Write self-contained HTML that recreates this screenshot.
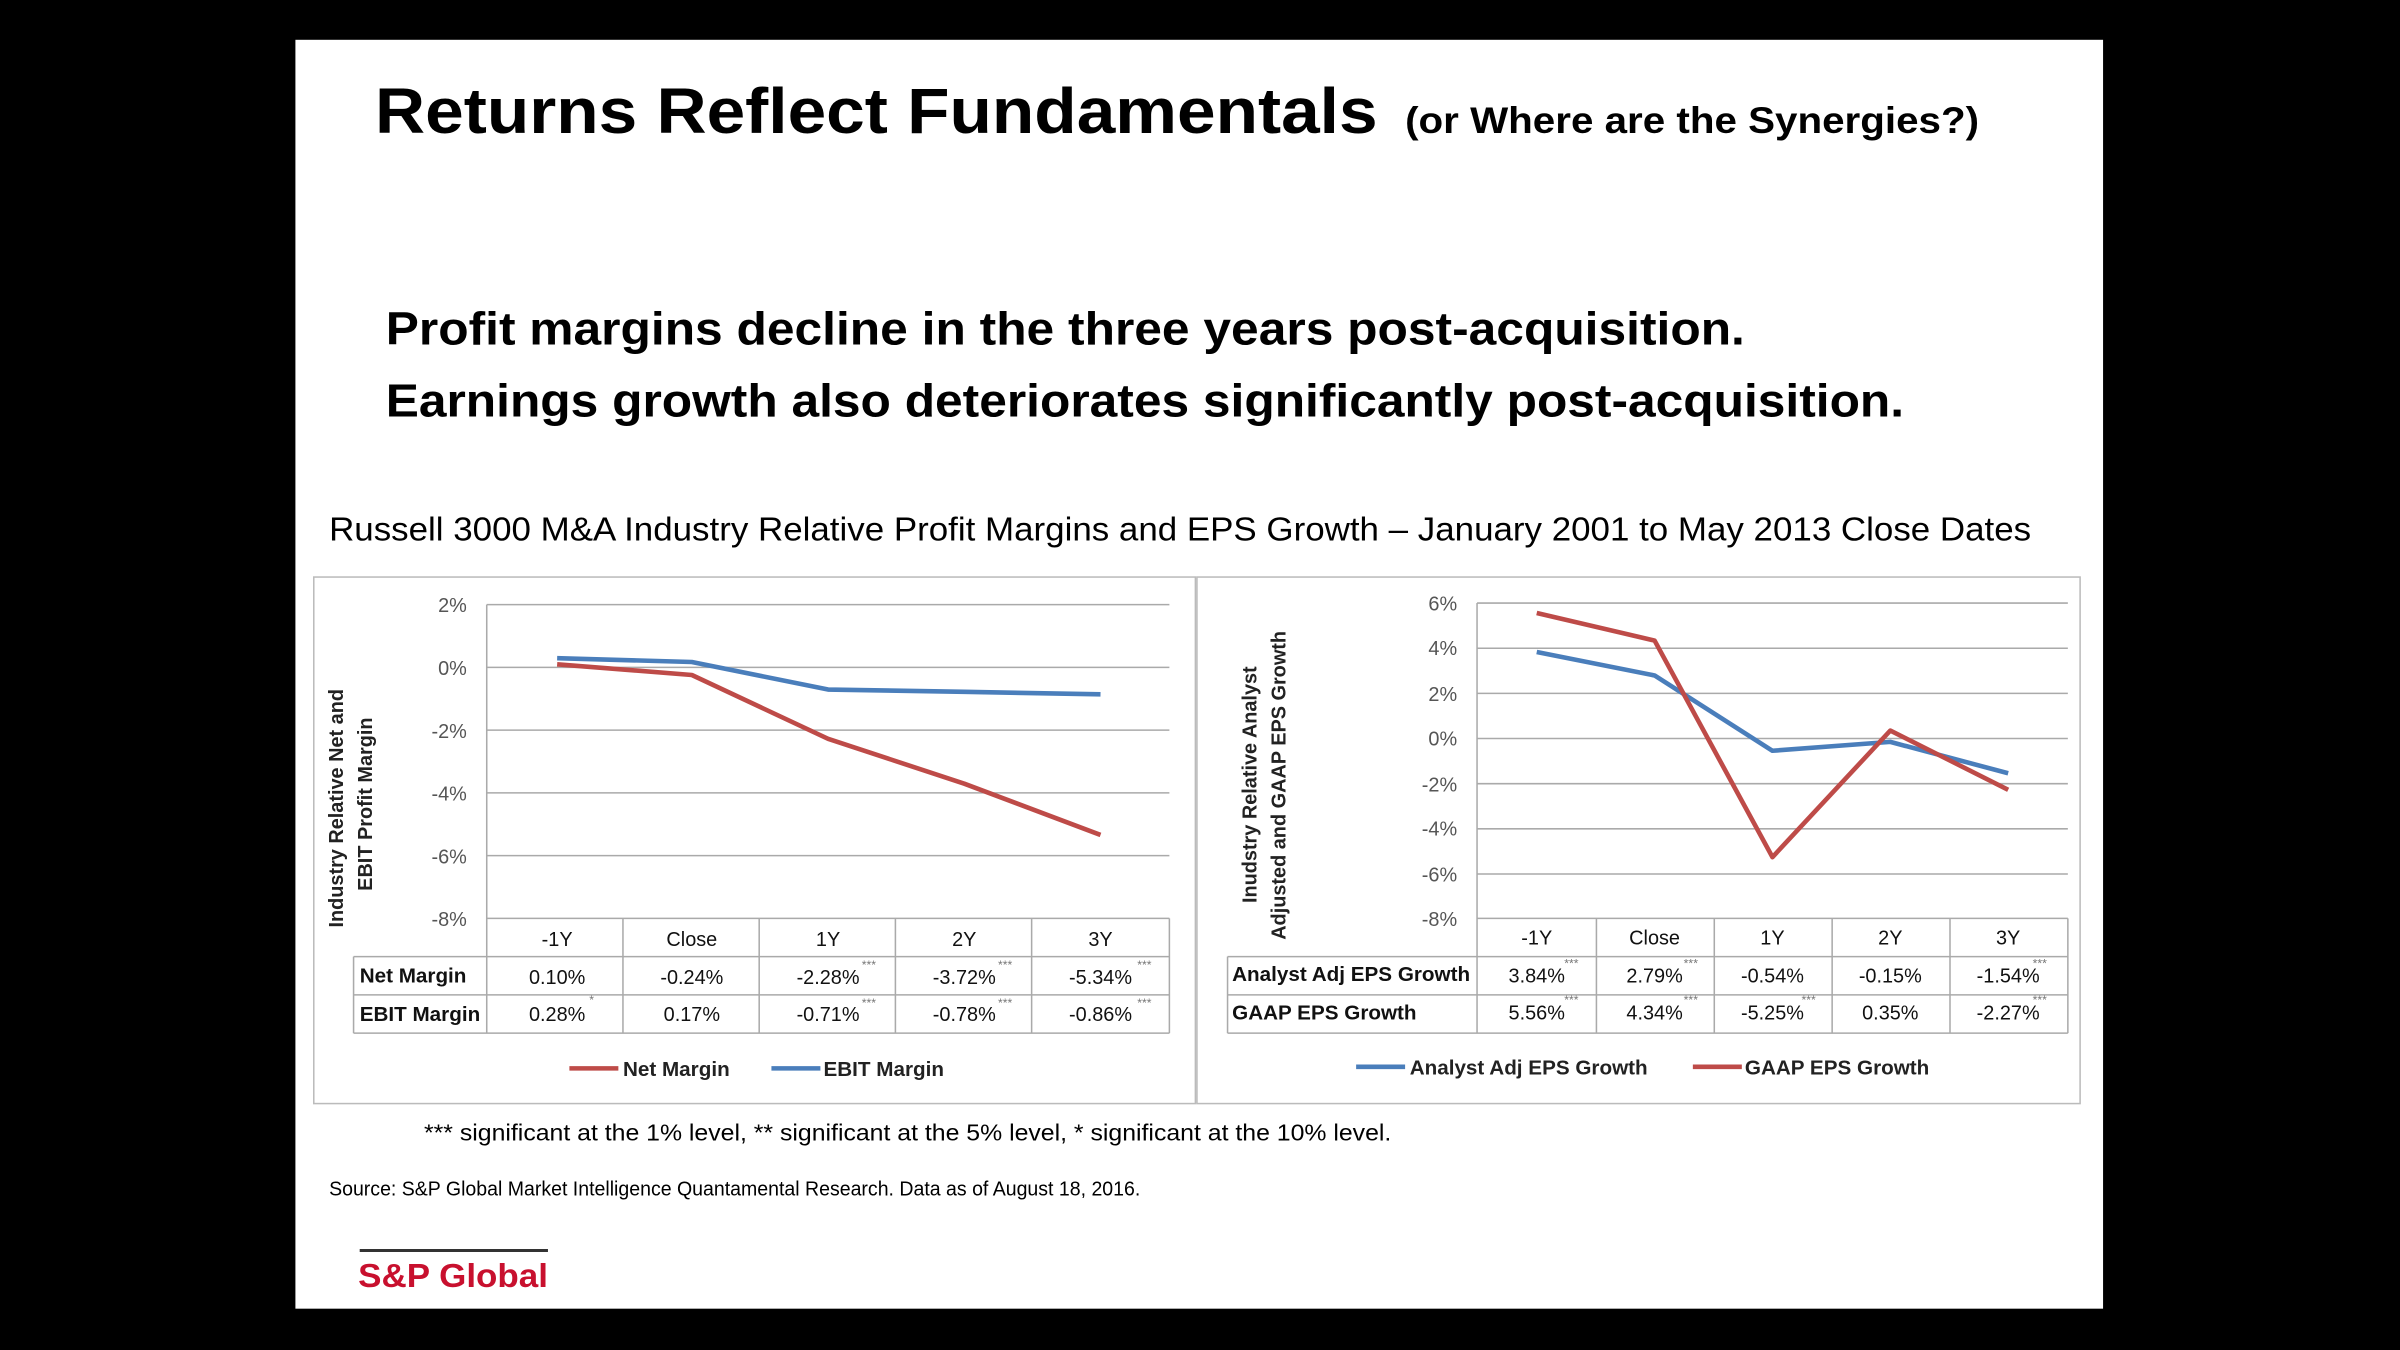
<!DOCTYPE html>
<html><head><meta charset="utf-8"><style>html,body{margin:0;padding:0;background:#000}svg{display:block}</style></head><body>
<svg width="2400" height="1350" viewBox="0 0 1568 882" xmlns="http://www.w3.org/2000/svg" font-family="Liberation Sans, sans-serif">
<rect width="1568" height="882" fill="#000"/>
<rect x="193" y="26" width="1181" height="829" fill="#fff"/>
<text x="245" y="87" font-size="42" font-weight="bold" textLength="655" lengthAdjust="spacingAndGlyphs">Returns Reflect Fundamentals</text>
<text x="918" y="87" font-size="24" font-weight="bold" textLength="375" lengthAdjust="spacingAndGlyphs">(or Where are the Synergies?)</text>
<text x="252" y="225" font-size="30" font-weight="bold" textLength="888" lengthAdjust="spacingAndGlyphs">Profit margins decline in the three years post-acquisition.</text>
<text x="252" y="272" font-size="30" font-weight="bold" textLength="992" lengthAdjust="spacingAndGlyphs">Earnings growth also deteriorates significantly post-acquisition.</text>
<text x="215" y="353" font-size="21.5" textLength="1112" lengthAdjust="spacingAndGlyphs">Russell 3000 M&amp;A Industry Relative Profit Margins and EPS Growth – January 2001 to May 2013 Close Dates</text>
<rect x="205" y="377" width="576" height="344" fill="#fff" stroke="#bbb"/>
<rect x="782" y="377" width="577" height="344" fill="#fff" stroke="#bbb"/>
<g stroke="#aaa" stroke-width="1">
<line x1="318" x2="764" y1="395" y2="395"/><line x1="318" x2="764" y1="436" y2="436"/><line x1="318" x2="764" y1="477" y2="477"/><line x1="318" x2="764" y1="518" y2="518"/><line x1="318" x2="764" y1="559" y2="559"/><line x1="318" x2="764" y1="600" y2="600"/>
<line x1="318" x2="318" y1="395" y2="675"/>
<line x1="231" x2="764" y1="625" y2="625"/><line x1="231" x2="764" y1="650" y2="650"/><line x1="231" x2="764" y1="675" y2="675"/>
<line x1="231" x2="231" y1="625" y2="675"/><line x1="407" x2="407" y1="600" y2="675"/><line x1="496" x2="496" y1="600" y2="675"/><line x1="585" x2="585" y1="600" y2="675"/><line x1="674" x2="674" y1="600" y2="675"/><line x1="764" x2="764" y1="600" y2="675"/>
<line x1="965" x2="1351" y1="394" y2="394"/><line x1="965" x2="1351" y1="423.5" y2="423.5"/><line x1="965" x2="1351" y1="453" y2="453"/><line x1="965" x2="1351" y1="482.5" y2="482.5"/><line x1="965" x2="1351" y1="512" y2="512"/><line x1="965" x2="1351" y1="541.5" y2="541.5"/><line x1="965" x2="1351" y1="571" y2="571"/><line x1="965" x2="1351" y1="600" y2="600"/>
<line x1="965" x2="965" y1="394" y2="675"/>
<line x1="802" x2="1351" y1="625" y2="625"/><line x1="802" x2="1351" y1="650" y2="650"/><line x1="802" x2="1351" y1="675" y2="675"/>
<line x1="802" x2="802" y1="625" y2="675"/><line x1="1043" x2="1043" y1="600" y2="675"/><line x1="1120" x2="1120" y1="600" y2="675"/><line x1="1197" x2="1197" y1="600" y2="675"/><line x1="1274" x2="1274" y1="600" y2="675"/><line x1="1351" x2="1351" y1="600" y2="675"/>
</g>
<g font-size="13" fill="#555" text-anchor="end">
<text x="305" y="400">2%</text><text x="305" y="441">0%</text><text x="305" y="482">-2%</text><text x="305" y="523">-4%</text><text x="305" y="564">-6%</text><text x="305" y="605">-8%</text>
<text x="952" y="399">6%</text><text x="952" y="428">4%</text><text x="952" y="458">2%</text><text x="952" y="487">0%</text><text x="952" y="517">-2%</text><text x="952" y="546">-4%</text><text x="952" y="576">-6%</text><text x="952" y="605">-8%</text>
</g>
<g font-size="13" text-anchor="middle" fill="#111">
<text x="364" y="618">-1Y</text><text x="452" y="618">Close</text><text x="541" y="618">1Y</text><text x="630" y="618">2Y</text><text x="719" y="618">3Y</text>
<text x="364" y="643">0.10%</text><text x="452" y="643">-0.24%</text><text x="541" y="643">-2.28%</text><text x="630" y="643">-3.72%</text><text x="719" y="643">-5.34%</text>
<text x="364" y="667">0.28%</text><text x="452" y="667">0.17%</text><text x="541" y="667">-0.71%</text><text x="630" y="667">-0.78%</text><text x="719" y="667">-0.86%</text>
<text x="1004" y="617">-1Y</text><text x="1081" y="617">Close</text><text x="1158" y="617">1Y</text><text x="1235" y="617">2Y</text><text x="1312" y="617">3Y</text>
<text x="1004" y="642">3.84%</text><text x="1081" y="642">2.79%</text><text x="1158" y="642">-0.54%</text><text x="1235" y="642">-0.15%</text><text x="1312" y="642">-1.54%</text>
<text x="1004" y="666">5.56%</text><text x="1081" y="666">4.34%</text><text x="1158" y="666">-5.25%</text><text x="1235" y="666">0.35%</text><text x="1312" y="666">-2.27%</text>
</g>
<g font-size="8" fill="#777"><text x="563" y="633">***</text><text x="652" y="633">***</text><text x="743" y="633">***</text><text x="385" y="656">*</text><text x="563" y="658">***</text><text x="652" y="658">***</text><text x="743" y="658">***</text>
<text x="1022" y="632">***</text><text x="1100" y="632">***</text><text x="1328" y="632">***</text><text x="1022" y="656">***</text><text x="1100" y="656">***</text><text x="1177" y="656">***</text><text x="1328" y="656">***</text></g>
<g font-size="13.5" font-weight="bold" fill="#111">
<text x="235" y="642">Net Margin</text><text x="235" y="667">EBIT Margin</text>
<text x="805" y="641">Analyst Adj EPS Growth</text><text x="805" y="666">GAAP EPS Growth</text>
</g>
<g font-size="13" font-weight="bold" fill="#222">
<text transform="translate(224,606) rotate(-90)">Industry Relative Net and</text>
<text transform="translate(243,582) rotate(-90)">EBIT Profit Margin</text>
<text transform="translate(821,590) rotate(-90)">Inudstry Relative Analyst</text>
<text transform="translate(840,614) rotate(-90)">Adjusted and GAAP  EPS Growth</text>
</g>
<g fill="none" stroke-width="3" stroke-linejoin="round">
<polyline stroke="#4a7ebb" points="364,430 452,432.5 541,450.5 630,452 719,453.6"/>
<polyline stroke="#be4b48" points="364,434 452,441 541,482.7 630,512 719,545.5"/>
<polyline stroke="#4a7ebb" points="1004,426 1081,441.3 1158,490.5 1235,484.7 1312,505.2"/>
<polyline stroke="#be4b48" points="1004,400.5 1081,418.5 1158,560 1235,477.3 1312,516"/>
<line x1="372" x2="404" y1="698" y2="698" stroke="#be4b48"/><line x1="504" x2="536" y1="698" y2="698" stroke="#4a7ebb"/>
<line x1="886" x2="918" y1="697" y2="697" stroke="#4a7ebb"/><line x1="1106" x2="1138" y1="697" y2="697" stroke="#be4b48"/>
</g>
<g font-size="13.5" font-weight="bold" fill="#222">
<text x="407" y="703">Net Margin</text><text x="538" y="703">EBIT Margin</text>
<text x="921" y="702">Analyst Adj EPS Growth</text><text x="1140" y="702">GAAP EPS Growth</text>
</g>
<text x="277" y="745" font-size="15" textLength="632" lengthAdjust="spacingAndGlyphs">*** significant at the 1% level, ** significant at the 5% level, * significant at the 10% level.</text>
<text x="215" y="781" font-size="13" textLength="530" lengthAdjust="spacingAndGlyphs">Source: S&amp;P Global Market Intelligence  Quantamental  Research. Data as of August 18, 2016.</text>
<line x1="235" x2="358" y1="817" y2="817" stroke="#333" stroke-width="2"/>
<text x="234" y="841" font-size="22" font-weight="bold" fill="#c8102e" textLength="124" lengthAdjust="spacingAndGlyphs">S&amp;P Global</text>
</svg>
</body></html>
